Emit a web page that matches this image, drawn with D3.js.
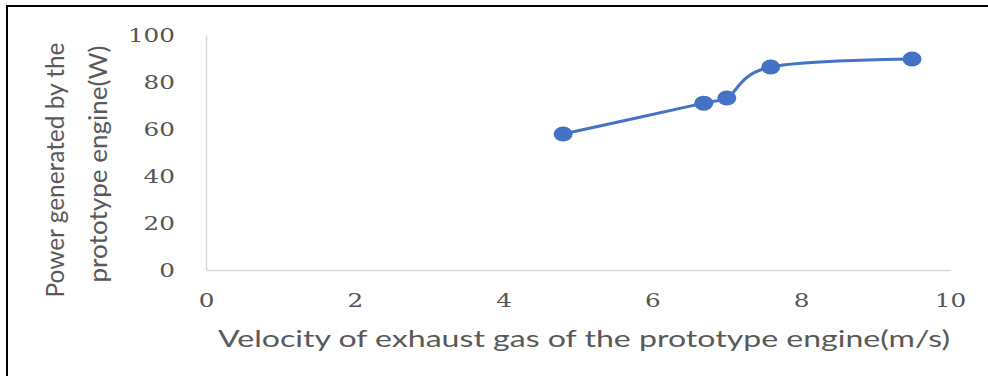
<!DOCTYPE html>
<html>
<head>
<meta charset="utf-8">
<script src="https://cdn.jsdelivr.net/npm/d3@7"></script>
<style>
  html, body { margin: 0; padding: 0; background: #ffffff; }
  svg { display: block; }
</style>
</head>
<body>
<svg id="chart" width="988" height="376"></svg>
<script>
// Measured exhaust velocity (m/s) and generated power (W)
const velocity = [4.8, 6.69, 7.0, 7.59, 9.49];
const power = [57.9, 71.0, 73.2, 86.4, 89.8];

// Axis ticks
const xTicks = [0, 2, 4, 6, 8, 10];
const yTicks = [0, 20, 40, 60, 80, 100];

const xTitle = "Velocity of exhaust gas of the prototype engine(m/s)";
const yTitleLines = ["Power generated by the", "prototype engine(W)"];

const svg = d3.select("#chart");
const blue = "#4472C4";
const grey = "#595959";

// Outer frame (runs off the right and bottom edges)
svg.append("rect")
  .attr("x", 7).attr("y", 6)
  .attr("width", 1000).attr("height", 400)
  .attr("fill", "none")
  .attr("stroke", "#000").attr("stroke-width", 2);

const x = d3.scaleLinear().domain([0, 10]).range([206, 950]);
const y = d3.scaleLinear().domain([0, 100]).range([270, 35]);

const tickFont = "'DejaVu Serif', 'Liberation Serif', serif";
const stretch = 1.3;

// Y axis
const gy = svg.append("g")
  .attr("transform", `translate(${x(0)},0)`)
  .call(d3.axisLeft(y).tickValues(yTicks).tickSize(0).tickFormat(d3.format("d")));
gy.select(".domain").attr("stroke", "#d9d9d9").attr("stroke-width", 1.5);
gy.selectAll("text")
  .attr("font-family", tickFont)
  .attr("font-size", 19)
  .attr("fill", "#555")
  .attr("x", -31 / stretch)
  .attr("dy", "0.36em")
  .attr("transform", `scale(${stretch},1)`);

// X axis
const gx = svg.append("g")
  .attr("transform", `translate(0,${y(0)})`)
  .call(d3.axisBottom(x).tickValues(xTicks).tickSize(0).tickFormat(d3.format("d")));
gx.select(".domain").attr("stroke", "#d9d9d9").attr("stroke-width", 1.5);
gx.selectAll(".tick").each(function () {
  const t = d3.select(this);
  const tx = +t.attr("transform").match(/translate\(([^,]+)/)[1];
  t.attr("transform", `translate(${tx},0) scale(${stretch},1)`);
});
gx.selectAll("text")
  .attr("font-family", tickFont)
  .attr("font-size", 19)
  .attr("fill", "#555")
  .attr("y", 30)
  .attr("dy", "0.36em");

// Axis titles
const titleFont = "Lato, 'Open Sans', sans-serif";
svg.append("text")
  .attr("x", 218).attr("y", 347)
  .attr("font-family", titleFont)
  .attr("font-size", 24)
  .attr("fill", grey)
  .attr("textLength", 732)
  .attr("lengthAdjust", "spacingAndGlyphs")
  .text(xTitle);

const yTitlePos = [{ bx: 64, cy: 170, len: 255 }, { bx: 107, cy: 164, len: 237 }];
yTitleLines.forEach((line, i) => {
  const p = yTitlePos[i];
  svg.append("text")
    .attr("transform", `translate(${p.bx},${p.cy}) scale(1.15,1) rotate(-90)`)
    .attr("text-anchor", "middle")
    .attr("font-family", titleFont)
    .attr("font-size", 22)
    .attr("fill", grey)
    .attr("textLength", p.len)
    .attr("lengthAdjust", "spacingAndGlyphs")
    .text(line);
});

// Smoothed series line
const pts = velocity.map((v, i) => [v, power[i]]);
const line = d3.line()
  .x(d => x(d[0]))
  .y(d => y(d[1]))
  .curve(d3.curveCardinal.tension(0));

svg.append("path")
  .datum(pts)
  .attr("d", line)
  .attr("fill", "none")
  .attr("stroke", blue)
  .attr("stroke-width", 3)
  .attr("stroke-linecap", "round");

// Markers
svg.append("g").selectAll("ellipse")
  .data(pts)
  .join("ellipse")
  .attr("cx", d => x(d[0]))
  .attr("cy", d => y(d[1]))
  .attr("rx", 9.5)
  .attr("ry", 7.5)
  .attr("fill", blue);
</script>
</body>
</html>
